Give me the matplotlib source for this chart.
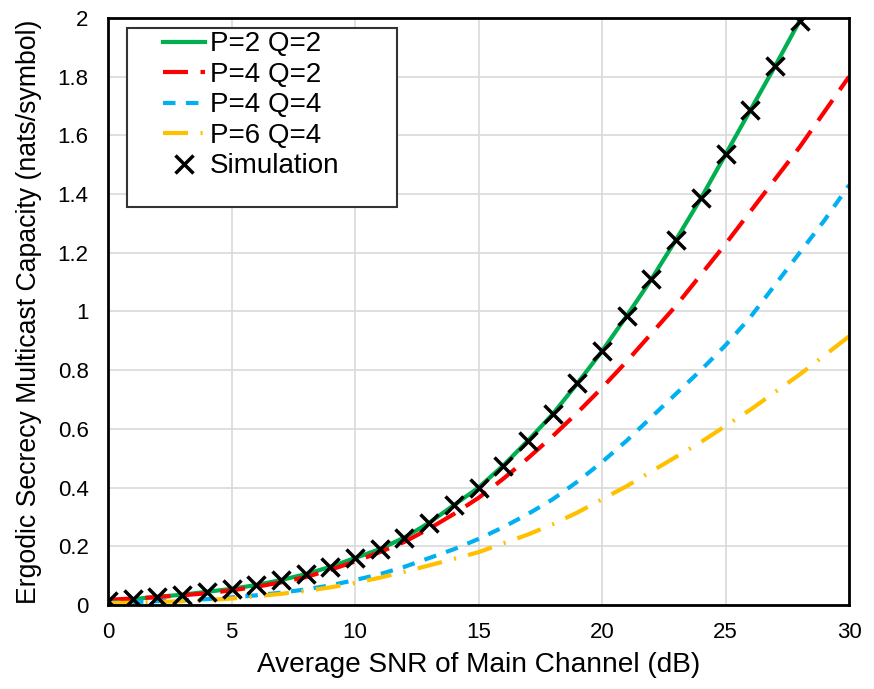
import numpy as np
import matplotlib.pyplot as plt
from matplotlib.patches import Rectangle

plt.rcParams['font.family'] = ['Liberation Sans', 'DejaVu Sans']

# values
snr = np.arange(0, 31)
sim_snr = np.arange(0, 29)

cap_p2q2 = [0.015, 0.02, 0.028, 0.035, 0.045, 0.055, 0.068, 0.085, 0.105, 0.13,
            0.16, 0.19, 0.23, 0.28, 0.34, 0.40, 0.475, 0.56, 0.65, 0.755,
            0.865, 0.985, 1.11, 1.245, 1.385, 1.535, 1.685, 1.835, 1.99]
cap_p4q2 = [0.018, 0.022, 0.027, 0.033, 0.04, 0.05, 0.062, 0.077, 0.095, 0.12,
            0.148, 0.18, 0.215, 0.26, 0.31, 0.365, 0.43, 0.50, 0.575, 0.655,
            0.74, 0.83, 0.925, 1.02, 1.125, 1.23, 1.34, 1.45, 1.56, 1.68, 1.80]
cap_p4q4 = [0.008, 0.01, 0.013, 0.016, 0.02, 0.026, 0.033, 0.042, 0.053, 0.067,
            0.085, 0.105, 0.13, 0.16, 0.19, 0.225, 0.265, 0.31, 0.36, 0.42,
            0.487, 0.56, 0.64, 0.72, 0.80, 0.885, 0.98, 1.09, 1.20, 1.31, 1.43]
cap_p6q4 = [0.006, 0.008, 0.01, 0.013, 0.017, 0.022, 0.03, 0.038, 0.048, 0.06,
            0.075, 0.093, 0.113, 0.135, 0.157, 0.18, 0.21, 0.24, 0.275, 0.315,
            0.36, 0.405, 0.455, 0.505, 0.555, 0.61, 0.665, 0.725, 0.785, 0.85, 0.915]
sim_vals = cap_p2q2

fig = plt.figure(figsize=(8.74, 6.89), dpi=100)
ax = fig.add_axes([0.1236, 0.1219, 0.8478, 0.852])

ax.plot(sim_snr, cap_p2q2, color='#00B050', lw=3, label='P=2 Q=2')
ax.plot(snr, cap_p4q2, color='#FF0000', lw=3, dashes=(6, 3), label='P=4 Q=2')
ax.plot(snr, cap_p4q4, color='#00B0F0', lw=3, dashes=(3, 2.5), label='P=4 Q=4')
ax.plot(snr, cap_p6q4, color='#FFC000', lw=3, dashes=(6, 3, 0.5, 3), label='P=6 Q=4')
ax.plot(sim_snr, sim_vals, ls='none', marker='x', ms=13, mew=2.5, color='black',
        label='Simulation')

ax.set_xlim(0, 30)
ax.set_ylim(0, 2)
ax.set_xticks(np.arange(0, 31, 5))
ax.set_yticks(np.arange(0, 2.01, 0.2))
ax.set_yticklabels(['0', '0.2', '0.4', '0.6', '0.8', '1', '1.2', '1.4', '1.6', '1.8', '2'])
ax.tick_params(length=0, labelsize=16)
ax.tick_params(axis='x', pad=12)
ax.tick_params(axis='y', pad=14)
ax.grid(color='#D9D9D9', lw=1.2)
ax.set_axisbelow(True)
for s in ax.spines.values():
    s.set_linewidth(2)
    s.set_color('black')

ax.set_xlabel('Average SNR of Main Channel (dB)', fontsize=20.2, labelpad=7)
ax.set_ylabel('Ergodic Secrecy Multicast Capacity (nats/symbol)', fontsize=19.2, labelpad=11)

# excel-style legend box, bigger than its entries
box = Rectangle((0.0256, 0.678), 0.365, 0.305, transform=ax.transAxes,
                facecolor='white', edgecolor='#333333', lw=1.5, zorder=4.5)
ax.add_patch(box)
leg = ax.legend(loc='upper left', bbox_to_anchor=(0.074, 0.977), fontsize=20,
                frameon=False, handlelength=1.5, labelspacing=0.16,
                borderpad=0, borderaxespad=0, handletextpad=0.2)

fig.savefig('out.png', dpi=100)
